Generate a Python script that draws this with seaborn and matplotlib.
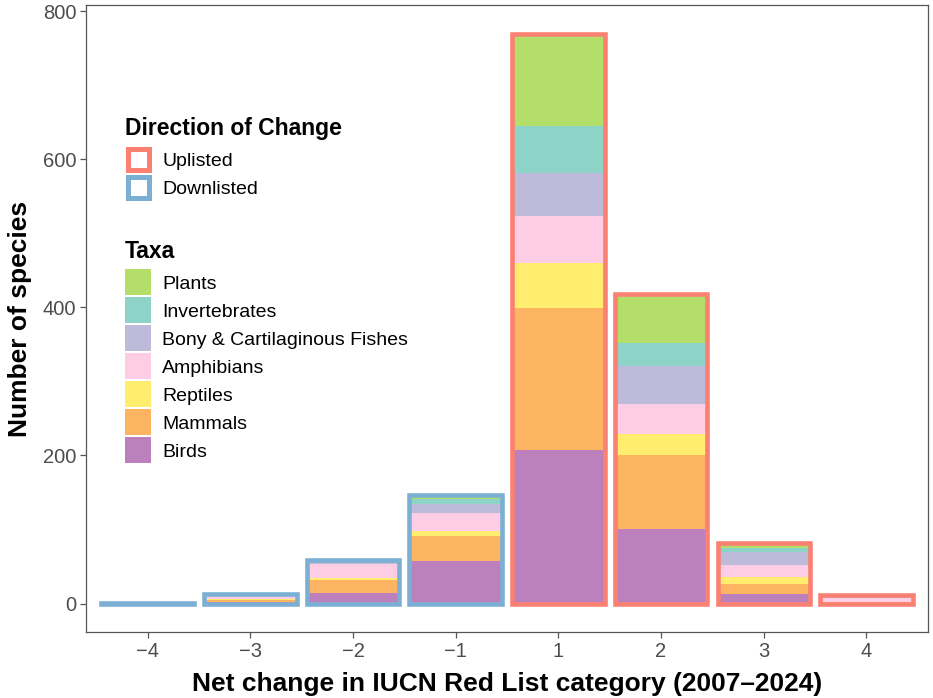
import numpy as np
import pandas as pd
import matplotlib
matplotlib.use("Agg")
import matplotlib.pyplot as plt
from matplotlib.patches import Patch
import seaborn as sns

# net change categories (left to right) and direction of change
changes = ["\u22124", "\u22123", "\u22122", "\u22121", "1", "2", "3", "4"]
direction = ["Downlisted"] * 4 + ["Uplisted"] * 4

# species counts per taxon
birds = [1, 2, 14, 58, 208, 101, 13, 1]
mammals = [0, 3, 18, 33, 191, 99, 14, 1]
reptiles = [0, 1, 3, 7, 61, 29, 9, 0]
amphibians = [0, 5, 19, 24, 63, 41, 16, 6]
fishes = [0, 2, 3, 13, 59, 51, 17, 1]
invertebrates = [0, 0, 1, 6, 63, 31, 6, 1]
plants = [0, 0, 1, 6, 125, 66, 7, 1]

taxa_names = ["Plants", "Invertebrates", "Bony & Cartilaginous Fishes",
              "Amphibians", "Reptiles", "Mammals", "Birds"]
taxa_counts = [plants, invertebrates, fishes, amphibians, reptiles, mammals, birds]
taxa_colors = ["#B3DE69", "#8DD3C7", "#BEBADA", "#FCCDE5", "#FFED6F", "#FDB462", "#BC80BD"]
dir_colors = {"Uplisted": "#FA8072", "Downlisted": "#7BAFD4"}

rows = []
for name, counts in zip(taxa_names, taxa_counts):
    for pos, n in enumerate(counts):
        rows.append({"pos": pos, "taxa": name, "n": n})
df = pd.DataFrame(rows)

tot = df.groupby("pos", as_index=False)["n"].sum()
tot["direction"] = [direction[p] for p in tot["pos"]]

sns.set_style("ticks")
plt.rcParams["font.family"] = ["Liberation Sans", "DejaVu Sans"]
plt.rcParams["text.color"] = "black"

W, H = 933, 698
fig = plt.figure(figsize=(W / 100, H / 100), dpi=100)
ax = fig.add_axes([86 / W, 66 / H, 842 / W, 627 / H])

# stacked taxa fills
sns.histplot(data=df, x="pos", weights="n", hue="taxa", hue_order=taxa_names,
             palette=dict(zip(taxa_names, taxa_colors)), multiple="stack",
             discrete=True, shrink=0.9, alpha=1, linewidth=0, edgecolor="none",
             legend=False, ax=ax)
# outlines by direction, one call each so no empty bars get drawn
for d in ["Downlisted", "Uplisted"]:
    sns.histplot(data=tot[tot["direction"] == d], x="pos", weights="n",
                 color=dir_colors[d], discrete=True, shrink=0.9, fill=False,
                 linewidth=3.3, ax=ax)

ax.set_xlim(-0.6, 7.6)
ax.set_ylim(-38.5, 808.5)
ax.set_xticks(range(len(changes)))
ax.set_xticklabels(changes)
ax.set_yticks([0, 200, 400, 600, 800])
ax.tick_params(axis="both", labelsize=14.5, colors="#555555", length=4, width=0.9,
               labelcolor="#4D4D4D", pad=3)
for s in ax.spines.values():
    s.set_visible(True)
    s.set_color("#555555")
    s.set_linewidth(0.9)

ax.set_xlabel("Net change in IUCN Red List category (2007\u20132024)",
              fontsize=19, fontweight="bold", labelpad=8, color="black")
ax.set_ylabel("Number of species", fontsize=19, fontweight="bold", labelpad=8,
              color="black")

# legends: titles as figure text, entries as title-less legends
fig.text(125 / W, 1 - 135 / H, "Direction of Change", fontsize=16.5,
         fontweight="bold", ha="left", va="baseline", color="black")
fig.text(125 / W, 1 - 258 / H, "Taxa", fontsize=16.5,
         fontweight="bold", ha="left", va="baseline", color="black")

dir_handles = [Patch(facecolor="white", edgecolor=dir_colors[k], linewidth=3.6)
               for k in ["Uplisted", "Downlisted"]]
leg1 = ax.legend(dir_handles, ["Uplisted", "Downlisted"],
                 loc="upper left", bbox_to_anchor=(128.2 / W, 1 - 149 / H),
                 bbox_transform=fig.transFigure, frameon=False, fontsize=14,
                 handlelength=1.08, handleheight=1.288, labelspacing=0.36,
                 handletextpad=0.675, borderpad=0, borderaxespad=0,
                 labelcolor="black")
ax.add_artist(leg1)

taxa_handles = [Patch(facecolor=c, edgecolor="none") for c in taxa_colors]
ax.legend(taxa_handles, taxa_names,
          loc="upper left", bbox_to_anchor=(125 / W, 1 - 269.3 / H),
          bbox_transform=fig.transFigure, frameon=False, fontsize=14,
          handlelength=1.34, handleheight=1.685, labelspacing=0.1,
          handletextpad=0.58, borderpad=0, borderaxespad=0,
          labelcolor="black")

fig.savefig("out.png", dpi=100)
